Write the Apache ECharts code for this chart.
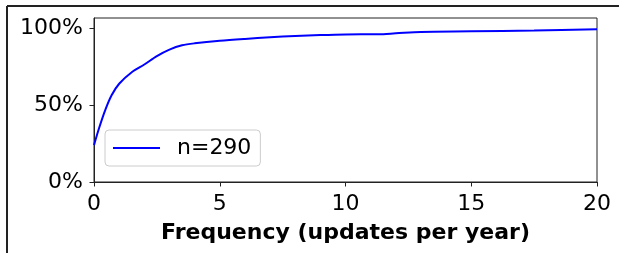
<!DOCTYPE html>
<html>
<head>
<meta charset="utf-8">
<script src="https://cdn.jsdelivr.net/npm/echarts@6/dist/echarts.min.js"></script>
<style>
html, body { margin: 0; padding: 0; background: #fff; }
#chart { width: 619px; height: 253px; }
</style>
</head>
<body>
<div id="chart"></div>
<script>
// cumulative share of sites vs. update frequency
const freq = [0, 0.2, 0.45, 0.7, 1.0, 1.5, 2.0, 2.5, 3.0, 3.5, 4.0, 5.0, 6.0, 7.0, 8.0, 9.0, 10.0, 11.3, 12.0, 13.0, 15.0, 17.5, 20.0];
const share = [0.24, 0.35, 0.47, 0.565, 0.64, 0.715, 0.765, 0.82, 0.862, 0.89, 0.903, 0.92, 0.932, 0.942, 0.951, 0.957, 0.961, 0.962, 0.968, 0.977, 0.981, 0.987, 0.995];
const seriesName = 'n=290';
const xLabel = 'Frequency (updates per year)';
const yTicks = [0, 0.5, 1];

const chart = echarts.init(document.getElementById('chart'));
const font = 'DejaVu Sans';
const fs = 22;

chart.setOption({
    animation: false,
    backgroundColor: '#fff',
    textStyle: { fontFamily: font, color: '#000' },
    grid: {
        left: 94, top: 18, right: 22, bottom: 71,
        show: true, borderColor: '#222', borderWidth: 1,
        containLabel: false
    },
    graphic: [
        { type: 'line', shape: { x1: 7, y1: 6, x2: 619, y2: 6 }, style: { stroke: '#222', lineWidth: 2 } },
        { type: 'line', shape: { x1: 7, y1: 6, x2: 7, y2: 253 }, style: { stroke: '#222', lineWidth: 2 } }
    ],
    legend: {
        left: 105, top: 130,
        data: [{ name: seriesName, icon: 'rect' }],
        itemWidth: 47, itemHeight: 2,
        padding: [7, 9, 7, 8],
        backgroundColor: 'rgba(255,255,255,0.8)',
        borderColor: '#ccc', borderWidth: 1, borderRadius: 4,
        textStyle: { fontFamily: font, fontSize: fs, color: '#000', padding: [0, 0, 0, 12] }
    },
    xAxis: {
        type: 'value', min: 0, max: 20, interval: 5,
        name: xLabel, nameLocation: 'middle', nameGap: 40,
        nameTextStyle: { fontFamily: font, fontSize: fs, fontWeight: 'bold', color: '#000' },
        axisLine: { lineStyle: { color: '#222', width: 1 } },
        axisTick: { show: true, length: 4.5, lineStyle: { color: '#222' } },
        axisLabel: { fontFamily: font, fontSize: fs, color: '#000', margin: 11 },
        splitLine: { show: false }
    },
    yAxis: {
        type: 'value', min: 0, max: 1.068,
        axisLine: { show: true, lineStyle: { color: '#222', width: 1 } },
        axisTick: { show: true, length: 4.5, customValues: yTicks, lineStyle: { color: '#222' } },
        axisLabel: {
            fontFamily: font, fontSize: fs, color: '#000', margin: 11,
            customValues: yTicks,
            formatter: v => Math.round(v * 100) + '%'
        },
        splitLine: { show: false }
    },
    series: [{
        name: seriesName,
        type: 'line',
        data: freq.map((f, i) => [f, share[i]]),
        smooth: 0.3,
        symbol: 'none',
        lineStyle: { color: '#0000ff', width: 2 },
        itemStyle: { color: '#0000ff' }
    }]
});
</script>
</body>
</html>
